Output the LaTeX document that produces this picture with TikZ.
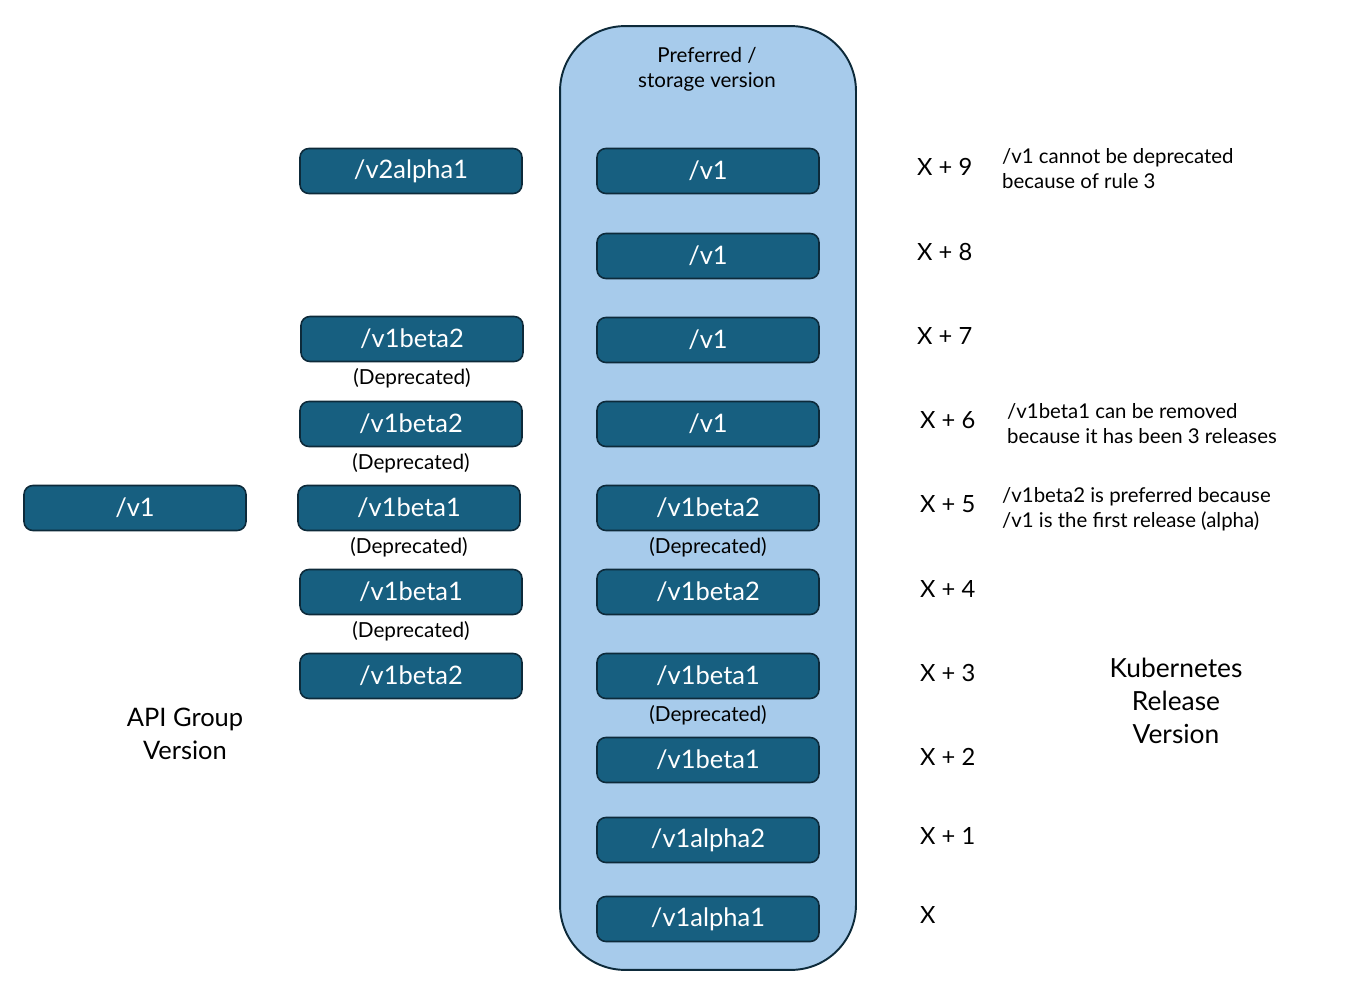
\documentclass[tikz,border=0pt]{standalone}
\usepackage{fontspec}
\setmainfont{Lato}
\usetikzlibrary{positioning}
\definecolor{verfill}{HTML}{175F80}
\definecolor{verline}{HTML}{0D2A3A}
\definecolor{storefill}{HTML}{A7CBEB}

\begin{document}
\begin{tikzpicture}[x=0.02cm,y=-0.02cm,
    ver/.style={draw=verline,fill=verfill,rounded corners=5pt,line width=0.9pt,
      minimum width=4.44cm,minimum height=0.9cm,text=white,
      font=\fontsize{14.5}{17}\selectfont},
    depr/.style={font=\fontsize{11.8}{13}\selectfont,inner sep=2pt},
    rel/.style={anchor=west,font=\fontsize{13.5}{16}\selectfont},
    note/.style={anchor=west,align=left,font=\fontsize{11.6}{14.2}\selectfont},
    caption/.style={align=center,font=\fontsize{15}{18.7}\selectfont}]
    \useasboundingbox (0,0) rectangle (1364,982);

    % preferred / storage column
    \node[draw=verline,fill=storefill,line width=1.1pt,rounded corners=1.3cm,
      minimum width=5.92cm,minimum height=18.88cm] (store) at (708,498) {};
    \node[align=center,font=\fontsize{11.7}{14.2}\selectfont] (storetitle) at (707,69)
      {Preferred /\\storage version};

    \foreach \name/\y/\txt in {s9/171/{/v1}, s8/256/{/v1}, s7/340/{/v1}, s6/424/{/v1},
        s5/508/{/v1beta2}, s4/592/{/v1beta2}, s3/676/{/v1beta1}, s2/760/{/v1beta1},
        s1/840/{/v1alpha2}, s0/919/{/v1alpha1}}
      \node[ver] (\name) at (708,\y) {\txt};
    \node[depr,below=1.5pt of s5] (s5dep) {(Deprecated)};
    \node[depr,below=1.5pt of s3] (s3dep) {(Deprecated)};

    % other served versions
    \node[ver] (a9) at (411,171) {/v2alpha1};
    \node[ver] (a7) at (412,339) {/v1beta2};
    \node[ver] (a6) at (411,424) {/v1beta2};
    \node[ver] (a5) at (409,508) {/v1beta1};
    \node[ver] (a4) at (411,592) {/v1beta1};
    \node[ver] (a3) at (411,676) {/v1beta2};
    \node[depr,below=1.5pt of a7] (a7dep) {(Deprecated)};
    \node[depr,below=1.5pt of a6] (a6dep) {(Deprecated)};
    \node[depr,below=1.5pt of a5] (a5dep) {(Deprecated)};
    \node[depr,below=1.5pt of a4] (a4dep) {(Deprecated)};

    \node[ver] (b5) at (135,508) {/v1};

    % release numbers
    \foreach \name/\x/\y/\txt in {r9/911/167/X + 9, r8/911/252/X + 8, r7/911/336/X + 7,
        r6/914/420/X + 6, r5/914/504/X + 5, r4/914/589/X + 4, r3/914/673/X + 3,
        r2/914/757/X + 2, r1/914/836/X + 1, r0/914/915/X}
      \node[rel] (\name) at (\x,\y) {\txt};

    \node[note] (n9) at (996,169) {/v1 cannot be deprecated\\because of rule 3};
    \node[note] (n6) at (1001,424) {/v1beta1 can be removed\\because it has been 3 releases};
    \node[note] (n5) at (996,509) {/v1beta2 is preferred because\\/v1 is the first release (alpha)};

    \node[caption] (relcap) at (1176,701) {Kubernetes\\Release\\Version};
    \node[caption,font=\fontsize{14.5}{18.7}\selectfont] (grpcap) at (185,734) {API Group\\Version};
  \end{tikzpicture}
\end{document}
